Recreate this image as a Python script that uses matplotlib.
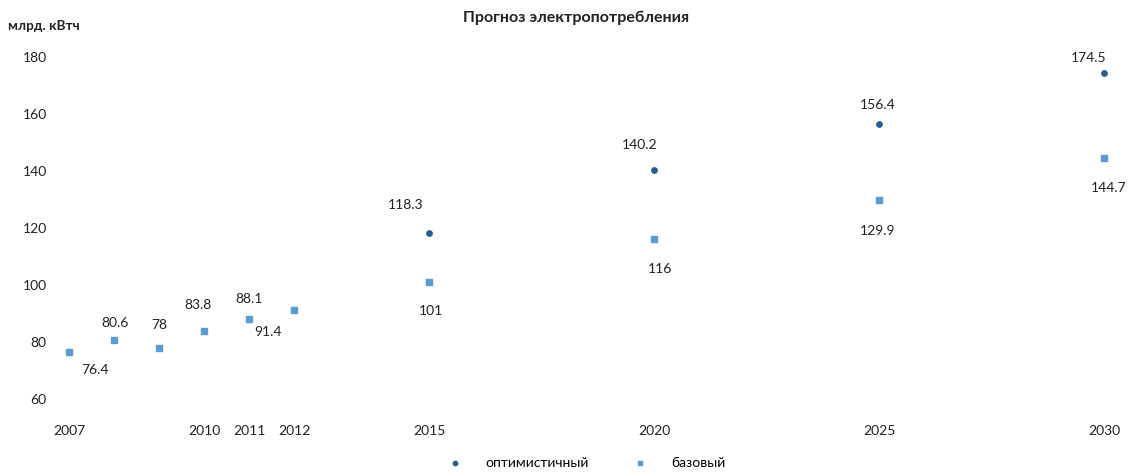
import matplotlib.pyplot as plt

plt.rcParams['font.family'] = ['Lato', 'DejaVu Sans']

# данные
years_opt = [2015, 2020, 2025, 2030]
opt_values = [118.3, 140.2, 156.4, 174.5]
years_base = [2007, 2008, 2009, 2010, 2011, 2012, 2015, 2020, 2025, 2030]
base_values = [76.4, 80.6, 78, 83.8, 88.1, 91.4, 101, 116, 129.9, 144.7]
x_ticks = [2007, 2010, 2011, 2012, 2015, 2020, 2025, 2030]
y_ticks = [60, 80, 100, 120, 140, 160, 180]

# смещения подписей (пиксели)
opt_offsets = [(-23, 28), (-14, 25), (-1, 19), (-15, 15)]
base_offsets = [(26, -18), (1, 17), (0, 23), (-6, 26), (0, 20), (-26, -22),
                (2, -29), (6, -30), (-1, -31), (5, -30)]

W, H = 1131, 472
fig = plt.figure(figsize=(W / 100, H / 100), dpi=100)
ax = fig.add_axes([69 / W, (H - 399) / H, (1104 - 69) / W, (399 - 57) / H])

opt_color = '#255E91'
base_color = '#5B9BD5'

ax.scatter(years_opt, opt_values, s=15, marker='o', color=opt_color,
           label='оптимистичный', clip_on=False, zorder=3)
ax.scatter(years_base, base_values, s=17, marker='s', color=base_color,
           label='базовый', clip_on=False, zorder=3)

for x, y, (dx, dy) in zip(years_opt, opt_values, opt_offsets):
    ax.annotate(f'{y:g}', (x, y), xytext=(dx * 0.72, dy * 0.72), textcoords='offset points',
                ha='center', va='center', fontsize=10, color='#222222')
for x, y, (dx, dy) in zip(years_base, base_values, base_offsets):
    ax.annotate(f'{y:g}', (x, y), xytext=(dx * 0.72, dy * 0.72), textcoords='offset points',
                ha='center', va='center', fontsize=10, color='#222222')

ax.set_xlim(2007, 2030)
ax.set_ylim(60, 180)
ax.set_xticks(x_ticks)
ax.set_yticks(y_ticks)
ax.tick_params(length=0, labelsize=10, colors='#222222')
ax.tick_params(axis='y', pad=16)
ax.tick_params(axis='x', pad=19)
for s in ax.spines.values():
    s.set_visible(False)

fig.text(576 / W, 1 - 18 / H, 'Прогноз электропотребления', ha='center', va='center',
         fontsize=11.5, fontweight='bold', color='#222222')
fig.text(8 / W, 1 - 26 / H, 'млрд. кВтч', ha='left', va='center',
         fontsize=9.8, fontweight='bold', color='#222222')

fig.legend(loc='center', bbox_to_anchor=(583 / W, 1 - 463 / H), ncol=2, frameon=False,
           fontsize=10, handletextpad=1.2, columnspacing=2.7, markerscale=0.8)

fig.savefig('out.png', dpi=100)
